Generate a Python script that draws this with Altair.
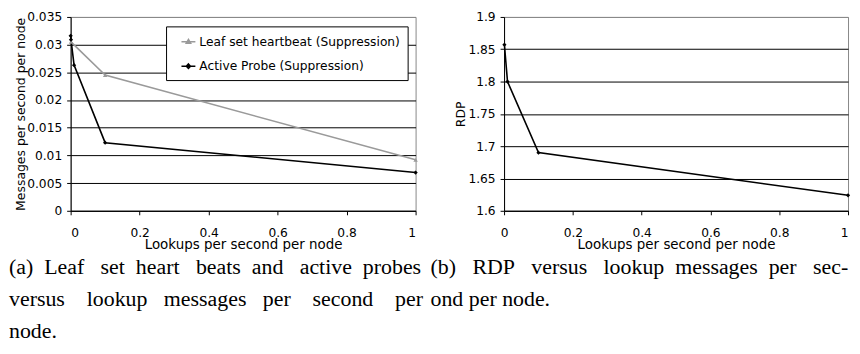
import altair as alt
import pandas as pd

# ---------------- data ----------------
series_names = ["Leaf set heartbeat (Suppression)", "Active Probe (Suppression)"]
series_colors = ["#9a9a9a", "#000000"]

leaf_x = [0.001, 0.1, 1.0]
leaf_y = [0.0305, 0.0245, 0.0092]

probe_x = [0.0001, 0.001, 0.01, 0.1, 1.0]
probe_y = [0.0316, 0.0309, 0.0263, 0.0123, 0.0069]

rdp_x = [0.001, 0.01, 0.1, 1.0]
rdp_y = [1.857, 1.800, 1.690, 1.624]

x_ticks = [0, 0.2, 0.4, 0.6, 0.8, 1]
ya_ticks = [0, 0.005, 0.01, 0.015, 0.02, 0.025, 0.03, 0.035]
yb_ticks = [1.6, 1.65, 1.7, 1.75, 1.8, 1.85, 1.9]

x_title = "Lookups per second per node"
ya_title = "Messages per second per node"
yb_title = "RDP"

NB = "\u00a0"


def spread(words, gaps):
    out = words[0]
    for w, g in zip(words[1:], gaps):
        out += NB * g + w
    return out


caption_a = [
    spread("(a) Leaf set heart beats and active probes".split(), [2, 3, 2, 3, 2, 3, 2]),
    spread("versus lookup messages per second per".split(), [4, 3, 3, 4, 4]),
    "node.",
]
caption_b = [
    spread("(b) RDP versus lookup messages per sec-".split(), [3, 3, 3, 2, 2, 3]),
    "ond per node.",
]

df_a = pd.DataFrame(
    {
        "series": [series_names[0]] * len(leaf_x) + [series_names[1]] * len(probe_x),
        "x": leaf_x + probe_x,
        "y": leaf_y + probe_y,
    }
)
df_b = pd.DataFrame({"x": rdp_x, "y": rdp_y})

# ---------------- styles ----------------
SANS = "DejaVu Sans"
SERIF = "Liberation Serif"
LBL = 12.3


def x_axis(flush_last=False):
    kw = {}
    if flush_last:
        kw["labelAlign"] = alt.condition("datum.value >= 0.99", alt.value("right"), alt.value("center"))
    return alt.Axis(
        values=x_ticks, format="~g", grid=False, tickSize=4, tickColor="black",
        domainColor="black", labelPadding=11.5, labelFont=SANS, labelFontSize=LBL,
        labelColor="black", title=x_title, titleFont=SANS, titleFontSize=13.5,
        titleFontWeight="normal", titleColor="black", titlePadding=-0.5, **kw,
    )


def y_axis(values, title, top, pad):
    return alt.Axis(
        values=values, format="~g", grid=True,
        gridColor=alt.condition(f"datum.value >= {top}", alt.value("#888888"), alt.value("black")),
        gridWidth=1, tickSize=4, tickColor="black", domainColor="black",
        labelPadding=5, labelFont=SANS, labelFontSize=LBL, labelColor="black",
        title=title, titleFont=SANS, titleFontSize=12.5, titleFontWeight="normal",
        titleColor="black", titlePadding=pad,
    )


def caption(lines, dx):
    return alt.TitleParams(
        text=lines, orient="bottom", anchor="start", frame="group", dx=dx, offset=5.5,
        font=SERIF, fontSize=22, fontWeight="normal", color="black", lineHeight=32.5,
        baseline="top",
    )


color_scale = alt.Scale(domain=series_names, range=series_colors)
legend_paths = [
    "M-1,0H1M0,-0.34L0.32,0.22L-0.32,0.22Z",
    "M-1,0H1M0,-0.32L0.3,0L0,0.32L-0.3,0Z",
]
legend_def = alt.Legend(
    title=None, orient="none", legendX=96, legendY=9.5, direction="vertical",
    strokeColor="black", fillColor="white", padding=7.5, symbolOffset=7,
    rowPadding=9.5, labelOffset=3, symbolSize=196, symbolStrokeWidth=1.5,
    labelFont=SANS, labelFontSize=LBL, labelColor="black", labelLimit=400,
    labelExpr="datum.label + '\u00a0\u00a0\u00a0'",
)

xa = alt.X("x:Q", scale=alt.Scale(domain=[0, 1], nice=False, zero=False), axis=x_axis())
ya = alt.Y("y:Q", scale=alt.Scale(domain=[0, 0.035], nice=False), axis=y_axis(ya_ticks, ya_title, 0.0349, -1))

base_a = alt.Chart(df_a)
leaf_data = base_a.transform_filter(alt.datum.series == series_names[0])
probe_data = base_a.transform_filter(alt.datum.series == series_names[1])

lines_leaf = leaf_data.mark_line(strokeWidth=1.6, color=series_colors[0]).encode(x=xa, y=ya)
lines_probe = probe_data.mark_line(strokeWidth=1.6, color=series_colors[1]).encode(x=xa, y=ya)
points_leaf = leaf_data.mark_point(
    filled=True, size=20, shape="triangle-up", opacity=1, color=series_colors[0]
).encode(x=xa, y=ya)
points_probe = probe_data.mark_point(
    filled=True, size=18, shape="diamond", opacity=1, color=series_colors[1]
).encode(x=xa, y=ya)
legend_a = base_a.transform_filter("false").mark_point(filled=False, strokeWidth=1.5, opacity=1).encode(
    x=xa, y=ya,
    color=alt.Color("series:N", scale=color_scale, legend=legend_def),
    shape=alt.Shape("series:N", scale=alt.Scale(domain=series_names, range=legend_paths), legend=legend_def),
)
panel_a = alt.layer(lines_leaf, lines_probe, points_leaf, points_probe, legend_a).properties(
    width=347, height=195, title=caption(caption_a, -62)
)

xb = alt.X("x:Q", scale=alt.Scale(domain=[0, 1], nice=False, zero=False), axis=x_axis(True))
yb = alt.Y("y:Q", scale=alt.Scale(domain=[1.6, 1.9], nice=False, zero=False), axis=y_axis(yb_ticks, yb_title, 1.899, 0))
base_b = alt.Chart(df_b)
lines_b = base_b.mark_line(strokeWidth=1.6, color="black").encode(x=xb, y=yb)
points_b = base_b.mark_point(filled=True, size=18, shape="diamond", color="black", opacity=1).encode(x=xb, y=yb)
panel_b = alt.layer(lines_b, points_b).properties(width=346, height=195, title=caption(caption_b, -74))

chart = (
    alt.hconcat(panel_a, panel_b, spacing=89, bounds="flush")
    .properties(padding={"left": 0, "top": 1, "right": 0, "bottom": 0})
    .configure_view(stroke="#888888", strokeWidth=1)
)

chart.save("out.html", embed_options={"renderer": "svg", "actions": False})
